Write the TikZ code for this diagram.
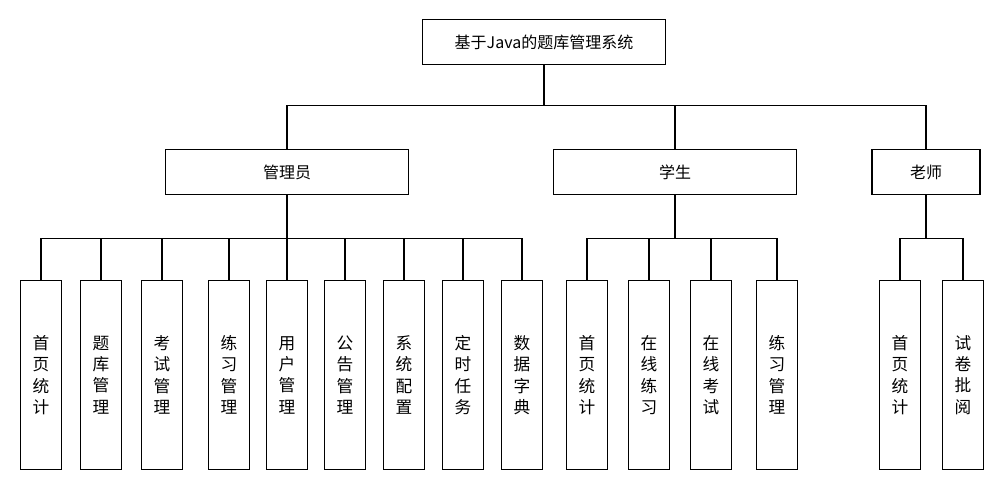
\documentclass[tikz,border=0pt]{standalone}
\usepackage{fontspec}
\newfontfamily\cjk{Noto Sans CJK SC}
\usetikzlibrary{positioning}

\begin{document}
\begin{tikzpicture}[
  x=0.75pt, y=-0.75pt,
  topbox/.style={rectangle, draw, line width=1.1pt, minimum height=34pt, font=\cjk\fontsize{12}{14}\selectfont, inner sep=0pt},
  leaf/.style={rectangle, draw, line width=1.1pt, minimum width=31pt, minimum height=142pt, inner sep=0pt, align=center, font=\cjk\fontsize{12.5}{16}\selectfont},
  link/.style={line width=1.1pt}
]
  \useasboundingbox (0,0) rectangle (1003,490);
  % upper levels
  \node[topbox, minimum width=182pt] (root) at (544,42) {基于Java的题库管理系统};
  \node[topbox, minimum width=182pt] (admin) at (287,172) {管理员};
  \node[topbox, minimum width=182pt] (stu) at (675,172) {学生};
  \node[topbox, minimum width=81pt] (tea) at (926,172) {老师};

  % leaves
  \foreach \n/\x/\t in {a1/41/首\\页\\统\\计, a2/101/题\\库\\管\\理, a3/162/考\\试\\管\\理,
      a4/229/练\\习\\管\\理, a5/287/用\\户\\管\\理, a6/345/公\\告\\管\\理,
      a7/404/系\\统\\配\\置, a8/463/定\\时\\任\\务, a9/522/数\\据\\字\\典,
      s1/587/首\\页\\统\\计, s2/649/在\\线\\练\\习, s3/711/在\\线\\考\\试, s4/777/练\\习\\管\\理,
      t1/900/首\\页\\统\\计, t2/963/试\\卷\\批\\阅}
    \node[leaf] (\n) at (\x,375) {\t};

  % connectors
  \draw[link] (root.south) -- ++(0,40) coordinate (hub);
  \draw[link] (admin.north) |- (hub) -| (tea.north);
  \draw[link] (stu.north) -- (stu.north |- hub);
  \foreach \p/\c in {admin/a1, admin/a2, admin/a3, admin/a4, admin/a5, admin/a6, admin/a7, admin/a8, admin/a9,
      stu/s1, stu/s2, stu/s3, stu/s4, tea/t1, tea/t2}
    \draw[link] (\p.south) -- ++(0,43) -| (\c.north);
\end{tikzpicture}
\end{document}
